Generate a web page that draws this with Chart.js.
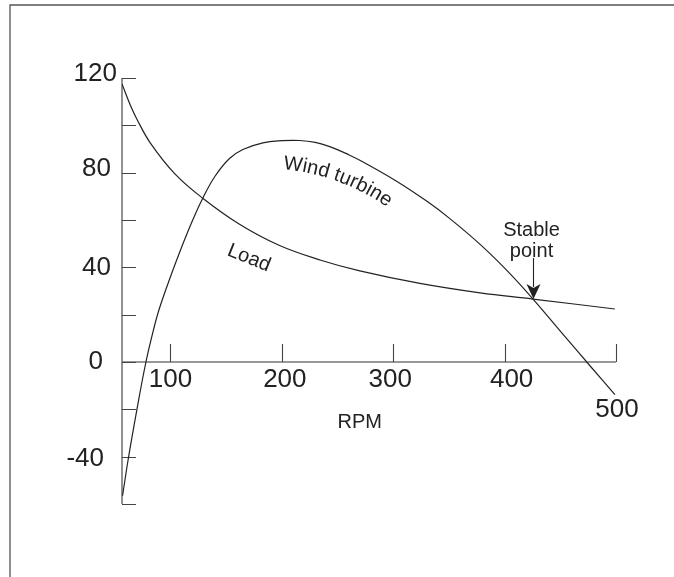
<!DOCTYPE html>
<html>
<head>
<meta charset="utf-8">
<title>Wind turbine and load torque vs RPM</title>
<script src="https://cdn.jsdelivr.net/npm/chart.js@4.4.1/dist/chart.umd.min.js"></script>
<style>
  html, body { margin: 0; padding: 0; background: #fff; }
  #wrap { width: 674px; height: 577px; }
</style>
</head>
<body>
<div id="wrap"><canvas id="chart" width="674" height="577"></canvas></div>
<script>
// values (rpm vs torque)
const loadRpm    = [56.5, 64, 70, 82, 104, 129, 162, 198, 235, 270, 324, 378, 425.5, 499];
const loadTorque = [117.5, 108.5, 102.5, 92.5, 79.5, 69.2, 58.2, 49.2, 43, 38.5, 33.2, 29.2, 26.6, 22.4];

const windRpm    = [57, 62, 70, 78, 85, 90, 100, 110, 120, 129, 140, 153, 165, 183, 200, 216, 230, 243, 260, 273, 303, 330, 350, 378, 402, 425.5, 455, 477, 499];
const windTorque = [-56.5, -41.3, -19.8, 0, 14, 22.5, 36, 48.5, 60, 69.2, 78.5, 86, 89.8, 92.6, 93.5, 93.6, 92.8, 91, 87.6, 84.5, 76.4, 68.0, 60.9, 49.7, 38.7, 26.6, 10.3, -1.8, -13.8];

const xTickValues = [100, 200, 300, 400, 500];
const yTickValues = [120, 100, 80, 60, 40, 20, 0, -20, -40, -60];
const yLabelValues = [120, 80, 40, 0, -40];
const stablePoint = [425.5, 26.6];

const FONT = '"Liberation Sans", Arial, Helvetica, sans-serif';

function toPoints(xs, ys) {
    return xs.map((x, i) => ({ x: x, y: ys[i] }));
}

function textOnArc(ctx, str, x, y, a, radius) {
    for (const ch of str) {
        const w = ctx.measureText(ch).width;
        ctx.save();
        ctx.translate(x, y);
        ctx.rotate(a + (w / 2) / radius);
        ctx.fillText(ch, 0, 0);
        ctx.restore();
        const a1 = a + w / radius;
        x += radius * (Math.sin(a1) - Math.sin(a));
        y += radius * (Math.cos(a) - Math.cos(a1));
        a = a1;
    }
}

const handDrawn = {
    id: 'handDrawn',
    beforeDraw(chart) {
        const ctx = chart.ctx;
        ctx.save();
        ctx.strokeStyle = '#555';
        ctx.lineWidth = 1.3;
        ctx.beginPath();
        ctx.moveTo(10, 577);
        ctx.lineTo(10, 5);
        ctx.lineTo(674, 5);
        ctx.stroke();
        ctx.restore();
    },
    beforeDatasetsDraw(chart) {
        const ctx = chart.ctx;
        const xs = chart.scales.x, ys = chart.scales.y;
        const left = xs.getPixelForValue(xs.min);
        const right = xs.getPixelForValue(500);
        const zero = ys.getPixelForValue(0);
        ctx.save();
        // axis lines
        ctx.strokeStyle = '#777';
        ctx.lineWidth = 1.6;
        ctx.beginPath();
        ctx.moveTo(left, ys.getPixelForValue(120));
        ctx.lineTo(left, ys.getPixelForValue(-60));
        ctx.moveTo(left, zero);
        ctx.lineTo(right, zero);
        ctx.stroke();
        // tick marks
        ctx.strokeStyle = '#444';
        ctx.lineWidth = 1.1;
        ctx.beginPath();
        yTickValues.forEach(v => {
            const py = Math.round(ys.getPixelForValue(v)) + 0.5;
            ctx.moveTo(left, py);
            ctx.lineTo(left + 14, py);
        });
        xTickValues.forEach(v => {
            const px = Math.round(xs.getPixelForValue(v)) + 0.5;
            ctx.moveTo(px, zero);
            ctx.lineTo(px, zero - 18);
        });
        ctx.stroke();
        ctx.restore();
    },
    afterDatasetsDraw(chart) {
        const ctx = chart.ctx;
        const xs = chart.scales.x, ys = chart.scales.y;
        const left = xs.getPixelForValue(xs.min);
        const zero = ys.getPixelForValue(0);
        ctx.save();
        ctx.fillStyle = '#222';

        // y labels
        ctx.font = '26px ' + FONT;
        ctx.textAlign = 'right';
        ctx.textBaseline = 'middle';
        const yNudge = { '120': [5, -4], '80': [-1, -4], '40': [-1, 0], '0': [-9, 0], '-40': [-8, 2] };
        yLabelValues.forEach(v => {
            const n = yNudge[String(v)];
            ctx.fillText(String(v), left - 10 + n[0], ys.getPixelForValue(v) + n[1]);
        });

        // x labels
        ctx.textAlign = 'center';
        ctx.textBaseline = 'alphabetic';
        const xNudge = { '100': [0, 0], '200': [3, 0], '300': [-3, 0], '400': [7, 0], '500': [1, 30] };
        xTickValues.forEach(v => {
            const n = xNudge[String(v)];
            ctx.fillText(String(v), xs.getPixelForValue(v) + n[0], zero + 25 + n[1]);
        });

        // axis title
        ctx.font = '20px ' + FONT;
        ctx.textBaseline = 'middle';
        ctx.fillText('RPM', xs.getPixelForValue(270), ys.getPixelForValue(-25.4));

        // stable point arrow
        const sx = Math.round(xs.getPixelForValue(stablePoint[0])) + 0.5;
        const sy = ys.getPixelForValue(stablePoint[1]);
        ctx.textBaseline = 'alphabetic';
        ctx.fillText('Stable', sx - 2, sy - 63);
        ctx.fillText('point', sx - 2, sy - 42);
        ctx.strokeStyle = '#222';
        ctx.lineWidth = 1.1;
        ctx.beginPath();
        ctx.moveTo(sx, sy - 41);
        ctx.lineTo(sx, sy - 12);
        ctx.stroke();
        ctx.beginPath();
        ctx.moveTo(sx - 7, sy - 15);
        ctx.lineTo(sx, sy - 11);
        ctx.lineTo(sx + 7, sy - 15);
        ctx.lineTo(sx, sy);
        ctx.closePath();
        ctx.fill();

        // curve labels
        ctx.save();
        ctx.translate(xs.getPixelForValue(170.5), ys.getPixelForValue(43.9));
        ctx.rotate(22 * Math.PI / 180);
        ctx.textAlign = 'center';
        ctx.textBaseline = 'middle';
        ctx.fillText('Load', 0, 0);
        ctx.restore();

        ctx.textAlign = 'left';
        ctx.textBaseline = 'alphabetic';
        textOnArc(ctx, 'Wind turbine', xs.getPixelForValue(201), ys.getPixelForValue(81.5), 5 * Math.PI / 180, 214);
        ctx.restore();
    }
};

new Chart(document.getElementById('chart').getContext('2d'), {
    type: 'line',
    data: {
        datasets: [
            {
                label: 'Load',
                data: toPoints(loadRpm, loadTorque),
                borderColor: '#222',
                borderWidth: 1.2,
                pointRadius: 0,
                tension: 0.4,
                fill: false
            },
            {
                label: 'Wind turbine',
                data: toPoints(windRpm, windTorque),
                borderColor: '#222',
                borderWidth: 1.2,
                pointRadius: 0,
                tension: 0.4,
                fill: false
            }
        ]
    },
    options: {
        responsive: false,
        animation: false,
        devicePixelRatio: 1,
        layout: { padding: { left: 122, right: 58, top: 78, bottom: 73 } },
        plugins: { legend: { display: false }, tooltip: { enabled: false } },
        scales: {
            x: { type: 'linear', min: 56.5, max: 500, display: false },
            y: { type: 'linear', min: -60, max: 120, display: false }
        }
    },
    plugins: [handDrawn]
});
</script>
</body>
</html>
